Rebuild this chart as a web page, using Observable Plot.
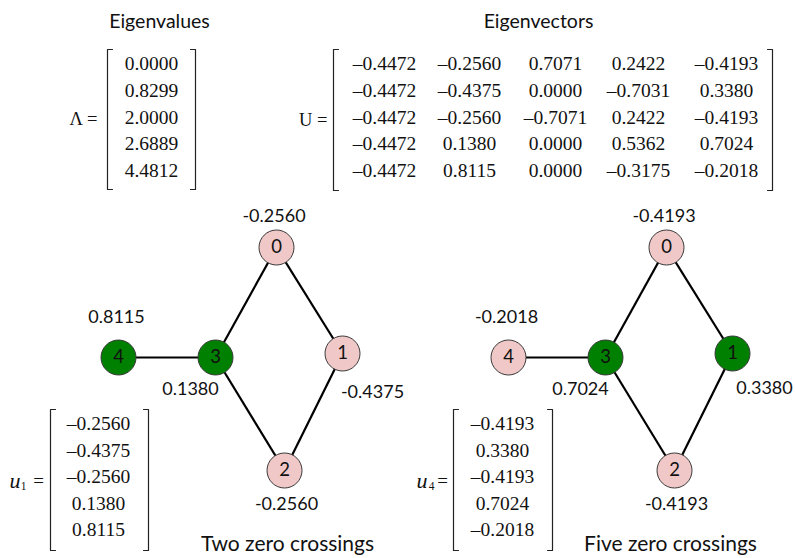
<!DOCTYPE html>
<html><head><meta charset="utf-8">
<script src="https://cdn.jsdelivr.net/npm/d3@7"></script>
<script src="https://cdn.jsdelivr.net/npm/@observablehq/plot@0.6"></script>
<style>body{margin:0;background:#fff}</style>
</head><body><div id="chart"></div>
<script>
// ---------- data ----------
const eigenvalues = [0.0000, 0.8299, 2.0000, 2.6889, 4.4812];
const eigenvectorRows = [
  [-0.4472, -0.2560,  0.7071,  0.2422, -0.4193],
  [-0.4472, -0.4375,  0.0000, -0.7031,  0.3380],
  [-0.4472, -0.2560, -0.7071,  0.2422, -0.4193],
  [-0.4472,  0.1380,  0.0000,  0.5362,  0.7024],
  [-0.4472,  0.8115,  0.0000, -0.3175, -0.2018]
];
const nodeIds = [0, 1, 2, 3, 4];
const edges = [[0, 3], [0, 1], [3, 4], [3, 2], [1, 2]];
const shownVectors = [1, 4];
const panelTitles = ["Two zero crossings", "Five zero crossings"];
const matrixTitles = ["Eigenvalues", "Eigenvectors"];

// ---------- layout (diagram units) ----------
const nodeLayoutX = [276, 342, 284, 215, 118];
const nodeLayoutY = [247, 353, 470, 357, 357];
const panelShift = 390;
const labelDX = [-2.5, 30, 2, -25, -2];
const labelDY = [-31, 39, 34, 32, -40];
const rowStep = 26.7;

const PINK = "#F0C8C8", GREEN = "#008000";
const SANS = "Lato, 'Open Sans', sans-serif";
const SERIF = "'Liberation Serif', 'DejaVu Serif', serif";

const fmtM = v => (v < 0 ? "\u2013" : "") + Math.abs(v).toFixed(4);
const fmtG = v => (v < 0 ? "-" : "") + Math.abs(v).toFixed(4);

// matrices
const matrices = [
  {id: "L", left: 107, right: 195, top: 49, bottom: 189, cols: [151], rows: eigenvalues.map(v => [v])},
  {id: "U", left: 333, right: 772, top: 49, bottom: 190, cols: [384, 469, 555, 638, 726], rows: eigenvectorRows},
  ...shownVectors.map((k, p) => ({
    id: "u" + k, left: 50 + p * 403, right: 148 + p * 404, top: 409, bottom: 550,
    cols: [98 + p * 404], rows: eigenvectorRows.map(r => [r[k]]), step: 26.5
  }))
];
const bracketPts = [];
const matrixCells = [];
for (const m of matrices) {
  const s = 5;
  bracketPts.push(
    {id: m.id + "l", x: m.left + s, y: m.top}, {id: m.id + "l", x: m.left, y: m.top},
    {id: m.id + "l", x: m.left, y: m.bottom}, {id: m.id + "l", x: m.left + s, y: m.bottom},
    {id: m.id + "r", x: m.right - s, y: m.top}, {id: m.id + "r", x: m.right, y: m.top},
    {id: m.id + "r", x: m.right, y: m.bottom}, {id: m.id + "r", x: m.right - s, y: m.bottom}
  );
  const step = m.step || rowStep;
  m.rows.forEach((row, i) => row.forEach((v, j) =>
    matrixCells.push({x: m.cols[j], y: m.top + 14.5 + i * step, text: fmtM(v)})));
  m.midY = (m.top + m.bottom) / 2;
}

// graph panels
const nodes = [], links = [], valueLabels = [], panelTitleTexts = [];
shownVectors.forEach((k, p) => {
  const dx = p * panelShift;
  for (const n of nodeIds) {
    const v = eigenvectorRows[n][k];
    nodes.push({x: nodeLayoutX[n] + dx, y: nodeLayoutY[n], id: n, fill: v > 0 ? GREEN : PINK});
    valueLabels.push({x: nodeLayoutX[n] + dx + labelDX[n] + (n === 1 && p === 1 ? 2 : 0),
                      y: nodeLayoutY[n] + labelDY[n] + (n === 1 && p === 1 ? -4 : 0), text: fmtG(v)});
  }
  for (const [a, b] of edges) links.push({x1: nodeLayoutX[a] + dx, y1: nodeLayoutY[a], x2: nodeLayoutX[b] + dx, y2: nodeLayoutY[b]});
  panelTitleTexts.push({x: 287 + dx - (p ? 7 : 0), y: 544, text: panelTitles[p]});
});
const matrixTitleTexts = [{x: 159, y: 21, text: matrixTitles[0]}, {x: 538, y: 21, text: matrixTitles[1]}];

const serifLabels = [
  {x: 97, y: matrices[0].midY, text: "\u039B ="},
  {x: 327, y: matrices[1].midY, text: "U ="}
];
const uParts = [], subParts = [], eqParts = [];
shownVectors.forEach((k, p) => {
  const m = matrices[2 + p];
  uParts.push({x: m.left - 35.5 + 4 * p, y: m.midY + 1, text: "u"});
  subParts.push({x: m.left - 27 + 5 * p, y: m.midY + 6, text: String(k)});
  eqParts.push({x: m.left - 12 + p, y: m.midY + 1, text: "="});
});

const chart = Plot.plot({
  width: 795, height: 558, margin: 0,
  x: {domain: [0, 795], range: [0, 795], axis: null},
  y: {domain: [0, 558], range: [0, 558], axis: null},
  style: {background: "#fff", color: "#000", overflow: "visible"},
  marks: [
    Plot.line(bracketPts, {x: "x", y: "y", z: "id", stroke: "#222", strokeWidth: 1.2}),
    Plot.text(matrixCells, {x: "x", y: "y", text: "text", fontFamily: SERIF, fontSize: 19.5, fill: "#111"}),
    Plot.text(serifLabels, {x: "x", y: "y", text: "text", textAnchor: "end", fontFamily: SERIF, fontSize: 18.5, fill: "#111"}),
    Plot.text(uParts, {x: "x", y: "y", text: "text", fontFamily: SERIF, fontStyle: "italic", fontSize: 22, fill: "#111"}),
    Plot.text(subParts, {x: "x", y: "y", text: "text", fontFamily: SERIF, fontSize: 11.5, fill: "#111"}),
    Plot.text(eqParts, {x: "x", y: "y", text: "text", fontFamily: SERIF, fontSize: 19, fill: "#111"}),
    Plot.link(links, {x1: "x1", y1: "y1", x2: "x2", y2: "y2", stroke: "#000", strokeWidth: 2.2}),
    Plot.dot(nodes, {x: "x", y: "y", r: 17.5, fill: "fill", stroke: "#3a3a3a", strokeWidth: 1}),
    Plot.text(nodes, {x: "x", y: "y", text: d => String(d.id), fontFamily: SANS, fontSize: 18.5, fill: "#111"}),
    Plot.text(valueLabels, {x: "x", y: "y", text: "text", fontFamily: SANS, fontSize: 18, fill: "#111"}),
    Plot.text(matrixTitleTexts, {x: "x", y: "y", text: "text", fontFamily: SANS, fontSize: 19.5, fill: "#111"}),
    Plot.text(panelTitleTexts, {x: "x", y: "y", text: "text", fontFamily: SANS, fontSize: 21, fill: "#111"})
  ]
});
document.getElementById("chart").append(chart);
</script>
</body></html>
